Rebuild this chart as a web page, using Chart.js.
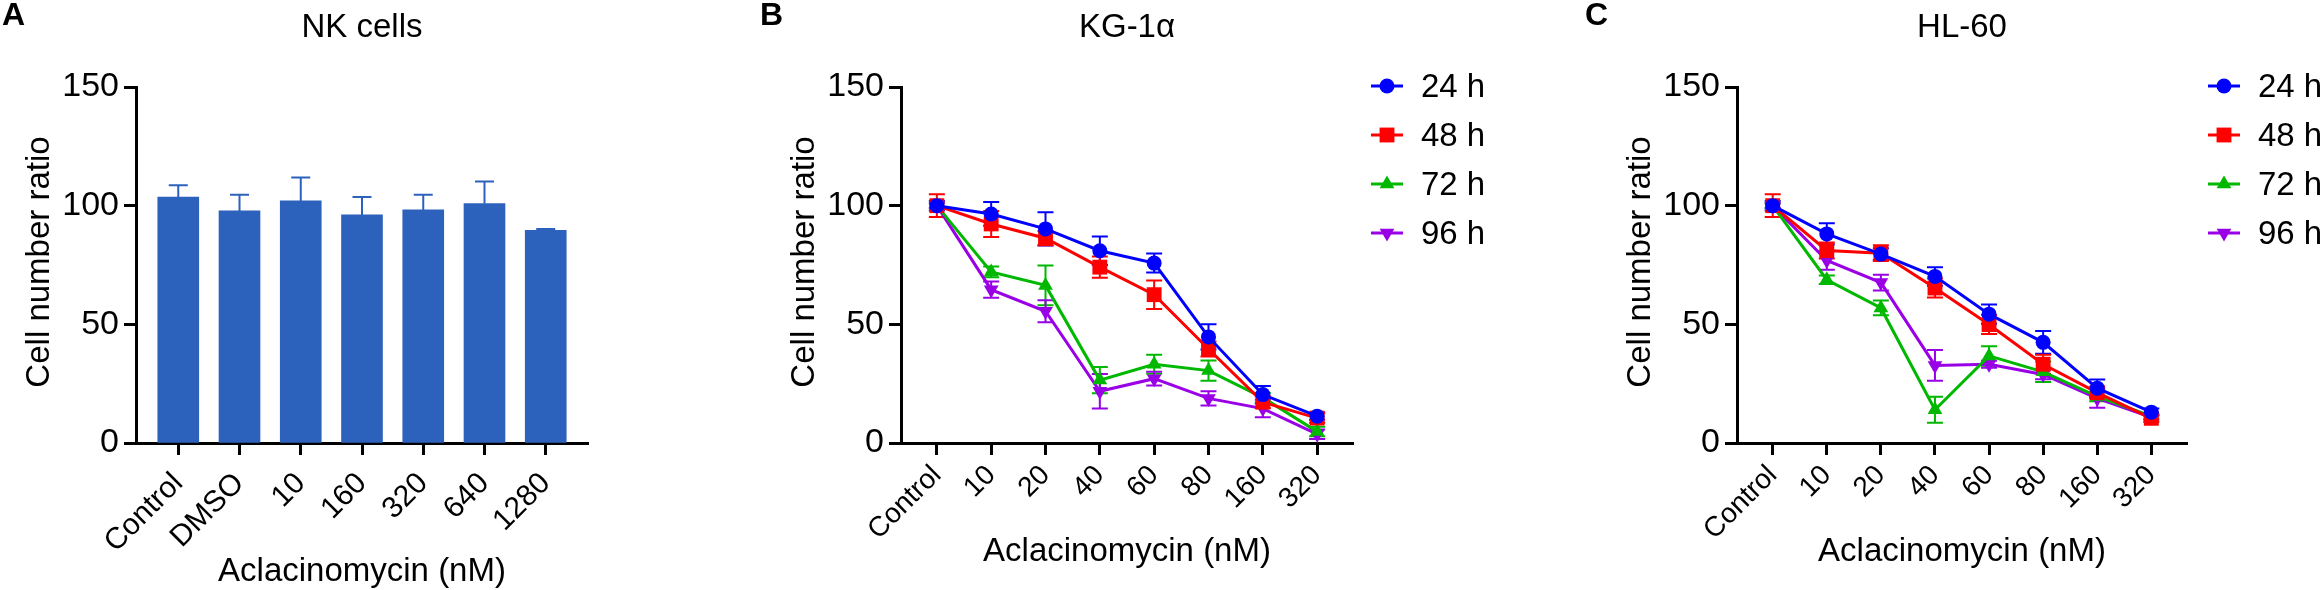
<!DOCTYPE html>
<html>
<head>
<meta charset="utf-8">
<script src="https://cdn.jsdelivr.net/npm/chart.js@4"></script>
<style>
  html, body { margin: 0; padding: 0; background: #fff; }
  #wrap { position: relative; width: 2320px; height: 590px; overflow: hidden; background: #fff; }
  canvas { position: absolute; top: 0; }
</style>
</head>
<body>
<div id="wrap">
  <canvas id="nk" width="600" height="590" style="left:0px"></canvas>
  <canvas id="kg" width="760" height="590" style="left:760px"></canvas>
  <canvas id="hl" width="740" height="590" style="left:1580px"></canvas>
</div>
<script>
  // ---- data ----
  var nkLabels = ['Control', 'DMSO', '10', '160', '320', '640', '1280'];
  var nkMean = [103.6, 97.8, 102, 96.1, 98.2, 100.9, 89.6];
  var nkErr = [5, 6.8, 9.9, 7.5, 6.4, 9.3, 0.6];

  var doseLabels = ['Control', '10', '20', '40', '60', '80', '160', '320'];
  var seriesNames = ['24 h', '48 h', '72 h', '96 h'];

  var kg24 = [100, 96.5, 90.2, 81, 75.8, 44.7, 20.4, 11.3];
  var kg24Err = [2, 5, 7, 6, 4, 5.3, 3.6, 1.5];
  var kg48 = [100, 92.3, 86.3, 74.1, 62.5, 39.6, 17.2, 10.5];
  var kg48Err = [4.8, 5.5, 3, 4.5, 6, 3.2, 2.5, 2];
  var kg72 = [100, 72.1, 66.4, 26.5, 33.2, 30.5, 19.1, 4.8];
  var kg72Err = [1, 2.3, 8.4, 5.5, 4, 4.3, 2, 2];
  var kg96 = [100, 64.6, 55.5, 21.8, 27.1, 18.8, 14.5, 3.7];
  var kg96Err = [1, 3.4, 4.6, 7.3, 2.9, 3, 3.7, 2];

  var hl24 = [100, 88.1, 79.6, 70.2, 54.3, 42.4, 23.1, 13];
  var hl24Err = [2, 4.5, 2.5, 3.9, 4.1, 4.8, 3.7, 1.5];
  var hl48 = [100, 81.1, 80, 65.3, 49.9, 33.2, 21.2, 10.4];
  var hl48Err = [4.8, 3.4, 3.3, 4, 4, 4, 2.5, 1.5];
  var hl72 = [100, 68.8, 56.9, 14, 36.7, 30, 19.6, 11.3];
  var hl72Err = [1, 1.8, 3.1, 5.5, 4.1, 4.3, 2, 1];
  var hl96 = [100, 76.9, 67.6, 32.7, 33.2, 28.9, 18.8, 10.8];
  var hl96Err = [1, 3.9, 3.3, 6.5, 1.5, 2, 4, 1];

  var yTicks = [0, 50, 100, 150];

  var FONT = '"Liberation Sans", Arial, Helvetica, sans-serif';
  Chart.defaults.font.family = FONT;
  Chart.defaults.color = '#000';

  var colors = ['#0000ff', '#ff0000', '#00b800', '#9900e6'];
  var styles = [
    { pointStyle: 'circle', pointRadius: 7.5, pointRotation: 0 },
    { pointStyle: 'rect', pointRadius: 10.5, pointRotation: 0 },
    { pointStyle: 'triangle', pointRadius: 8.5, pointRotation: 0 },
    { pointStyle: 'triangle', pointRadius: 8.5, pointRotation: 180 }
  ];

  function toXY(values) {
    return values.map(function(v, i) { return { x: i, y: v }; });
  }

  // error bars, drawn through the y scale
  var errorBars = {
    id: 'errorBars',
    beforeDatasetsDraw: function(chart, args, opts) { if (!opts.onTop) drawErrors(chart, opts); },
    afterDatasetsDraw: function(chart, args, opts) { if (opts.onTop) drawErrors(chart, opts); }
  };

  function drawErrors(chart, opts) {
    var ctx = chart.ctx, y = chart.scales.y;
    ctx.save();
    ctx.lineWidth = opts.lineWidth || 2;
    chart.data.datasets.forEach(function(ds, i) {
      var meta = chart.getDatasetMeta(i);
      if (!ds.errors) return;
      ctx.strokeStyle = ds.errorColor || ds.borderColor;
      meta.data.forEach(function(el, j) {
        var v = ds.data[j].y, e = ds.errors[j];
        var top = y.getPixelForValue(v + e);
        var bot = opts.upOnly ? y.getPixelForValue(v) : y.getPixelForValue(v - e);
        var half = opts.cap / 2;
        ctx.beginPath();
        ctx.moveTo(el.x, top); ctx.lineTo(el.x, bot);
        ctx.moveTo(el.x - half, top); ctx.lineTo(el.x + half, top);
        if (!opts.upOnly) { ctx.moveTo(el.x - half, bot); ctx.lineTo(el.x + half, bot); }
        ctx.stroke();
      });
    });
    ctx.restore();
  }

  // panel letter, titles and legend
  var panelText = {
    id: 'panelText',
    afterDraw: function(chart, args, o) {
      var ctx = chart.ctx, a = chart.chartArea;
      var cx = (a.left + a.right) / 2;
      ctx.save();
      ctx.fillStyle = '#000';
      ctx.textBaseline = 'alphabetic';
      ctx.font = 'bold 32px ' + FONT;
      ctx.textAlign = 'left';
      ctx.fillText(o.letter, o.letterX, 25);
      ctx.font = '33px ' + FONT;
      ctx.textAlign = 'center';
      ctx.fillText(o.title, cx, 37);
      ctx.fillText('Aclacinomycin (nM)', cx, o.xTitleY);
      ctx.save();
      ctx.translate(a.left - 87, (a.top + a.bottom) / 2 - 3);
      ctx.rotate(-Math.PI / 2);
      ctx.fillText('Cell number ratio', 0, 0);
      ctx.restore();

      if (o.legendX) {
        chart.data.datasets.forEach(function(ds, i) {
          var ly = 86 + i * 49;
          ctx.strokeStyle = ds.borderColor;
          ctx.fillStyle = ds.borderColor;
          ctx.lineWidth = 3;
          ctx.beginPath();
          ctx.moveTo(o.legendX - 16, ly); ctx.lineTo(o.legendX + 16, ly);
          ctx.stroke();
          Chart.helpers.drawPoint(ctx, {
            pointStyle: ds.pointStyle, radius: ds.pointRadius,
            rotation: ds.pointRotation, borderWidth: 0
          }, o.legendX, ly);
          ctx.fillStyle = '#000';
          ctx.font = '33px ' + FONT;
          ctx.textAlign = 'left';
          ctx.fillText(ds.label, o.legendX + 34, ly + 11);
        });
      }
      ctx.restore();
    }
  };

  function axes(labels, pad, yWidth, bottom, xFont, xPad) {
    return {
      x: {
        type: 'linear',
        offset: false,
        min: -pad,
        max: labels.length - 1 + pad,
        afterBuildTicks: function(s) { s.ticks = labels.map(function(l, i) { return { value: i }; }); },
        afterFit: function(s) { s.height = 590 - bottom; },
        ticks: {
          autoSkip: false, minRotation: 45, maxRotation: 45, padding: xPad,
          font: { size: xFont }, color: '#000',
          callback: function(v) { return labels[v]; }
        },
        grid: { offset: false, drawOnChartArea: false, drawTicks: true, tickLength: 12, tickWidth: 3, tickColor: '#000' },
        border: { display: true, color: '#000', width: 3 }
      },
      y: {
        min: 0, max: 150,
        afterBuildTicks: function(s) { s.ticks = yTicks.map(function(v) { return { value: v }; }); },
        afterFit: function(s) { s.width = yWidth; },
        ticks: { padding: 5, font: { size: 34 }, color: '#000' },
        grid: { drawOnChartArea: false, drawTicks: true, tickLength: 12, tickWidth: 3, tickColor: '#000' },
        border: { display: true, color: '#000', width: 3 }
      }
    };
  }

  // ---- A: NK cells ----
  new Chart(document.getElementById('nk'), {
    type: 'bar',
    data: {
      datasets: [{
        label: 'NK cells',
        data: toXY(nkMean),
        errors: nkErr,
        backgroundColor: '#2d62bc',
        borderColor: '#2d62bc',
        errorColor: '#2d62bc',
        borderWidth: 0,
        barThickness: 41
      }]
    },
    options: {
      responsive: false, animation: false, devicePixelRatio: 1,
      layout: { padding: { left: 0, top: 87, right: 12, bottom: 0 } },
      scales: axes(nkLabels, 0.69, 136, 443, 30, 11),
      plugins: {
        legend: { display: false }, tooltip: { enabled: false },
        errorBars: { onTop: true, upOnly: true, cap: 19, lineWidth: 2 },
        panelText: { letter: 'A', letterX: 2, title: 'NK cells', xTitleY: 581 }
      }
    },
    plugins: [errorBars, panelText]
  });

  function lineChart(id, title, letter, letterX, series, errs, yWidth, padRight, legendX) {
    new Chart(document.getElementById(id), {
      type: 'line',
      data: {
        datasets: series.map(function(vals, i) {
          return {
            label: seriesNames[i],
            data: toXY(vals),
            errors: errs[i],
            borderColor: colors[i],
            backgroundColor: colors[i],
            pointBackgroundColor: colors[i],
            pointBorderWidth: 0,
            pointStyle: styles[i].pointStyle,
            pointRadius: styles[i].pointRadius,
            pointRotation: styles[i].pointRotation,
            borderWidth: 3,
            tension: 0,
            fill: false,
            clip: false
          };
        })
      },
      options: {
        responsive: false, animation: false, devicePixelRatio: 1,
        layout: { padding: { left: 0, top: 87, right: padRight, bottom: 0 } },
        scales: axes(doseLabels, 0.66, yWidth, 443, 28, 4),
        plugins: {
          legend: { display: false }, tooltip: { enabled: false },
          errorBars: { onTop: false, upOnly: false, cap: 16, lineWidth: 2 },
          panelText: { letter: letter, letterX: letterX, title: title, xTitleY: 561, legendX: legendX }
        }
      },
      plugins: [errorBars, panelText]
    });
  }

  // ---- B: KG-1α ----
  lineChart('kg', 'KG-1α', 'B', 0, [kg24, kg48, kg72, kg96],
    [kg24Err, kg48Err, kg72Err, kg96Err], 141, 167, 627);

  // ---- C: HL-60 ----
  lineChart('hl', 'HL-60', 'C', 5, [hl24, hl48, hl72, hl96],
    [hl24Err, hl48Err, hl72Err, hl96Err], 157, 133, 644);
</script>
</body>
</html>
